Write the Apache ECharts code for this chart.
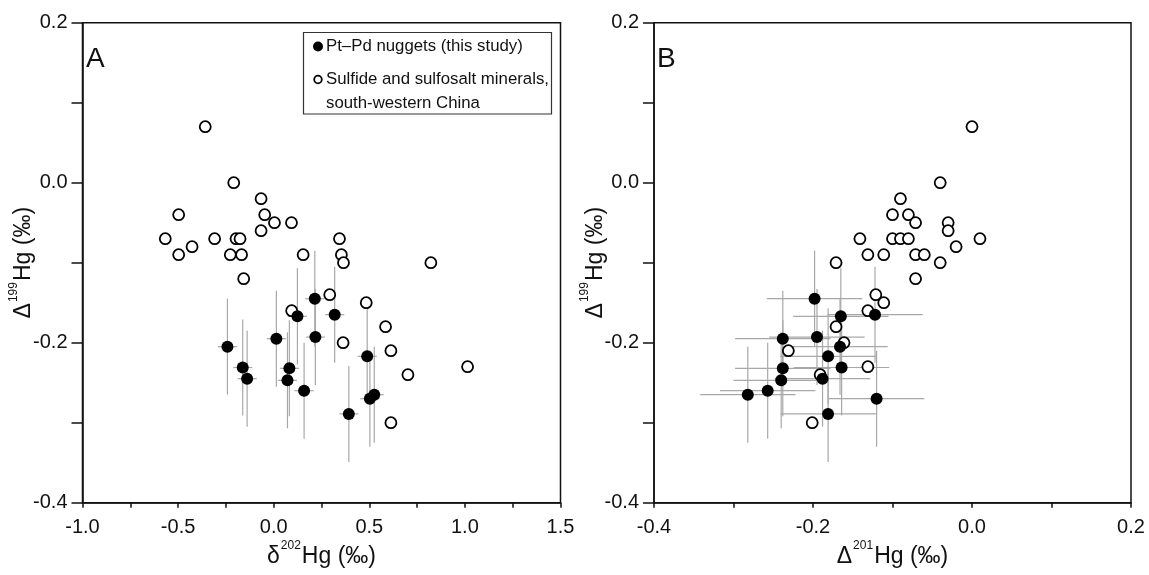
<!DOCTYPE html>
<html><head><meta charset="utf-8">
<script src="https://cdn.jsdelivr.net/npm/echarts@6/dist/echarts.min.js"></script>
<style>html,body{margin:0;padding:0;background:#fff}#c{width:1149px;height:575px}</style>
</head><body><div id="c"></div>
<script>
// ---- Data ----
// Pt–Pd nuggets (this study)
const nuggetD199 = [-0.145,-0.165,-0.167,-0.193,-0.195,-0.205,-0.217,-0.231,-0.232,-0.245,-0.247,-0.260,-0.265,-0.270,-0.289];
const nuggetd202 = [0.215,0.319,0.124,0.218,0.014,-0.242,0.489,-0.162,0.082,-0.139,0.072,0.159,0.526,0.503,0.393];
const nuggetD201 = [-0.198,-0.122,-0.165,-0.195,-0.238,-0.166,-0.181,-0.164,-0.238,-0.188,-0.240,-0.257,-0.282,-0.120,-0.181];
const nuggetErrD199 = [0.06,0.06,0.06,0.06,0.06,0.06,0.06,0.06,0.06,0.06,0.06,0.06,0.06,0.06,0.06];
const nuggetErrd202 = [0.05,0.05,0.05,0.05,0.05,0.05,0.05,0.05,0.05,0.05,0.05,0.05,0.05,0.05,0.05];
const nuggetErrD201 = [0.06,0.06,0.06,0.06,0.06,0.06,0.06,0.06,0.06,0.06,0.06,0.06,0.06,0.06,0.06];
// Sulfide and sulfosalt minerals, panel A (δ202Hg, Δ199Hg)
const sulfideA_d202 = [-0.358,-0.209,-0.066,-0.497,-0.047,0.004,0.093,-0.567,-0.309,-0.197,-0.176,-0.066,-0.427,-0.497,-0.227,-0.168,0.154,-0.157,0.344,0.354,0.365,0.822,0.293,0.094,0.484,0.585,0.363,0.613,0.702,0.613,1.014];
const sulfideA_D199 = [0.07,0.0,-0.02,-0.04,-0.04,-0.05,-0.05,-0.07,-0.07,-0.07,-0.07,-0.06,-0.08,-0.09,-0.09,-0.09,-0.09,-0.12,-0.07,-0.09,-0.10,-0.10,-0.14,-0.16,-0.15,-0.18,-0.20,-0.21,-0.24,-0.30,-0.23];
// Sulfide and sulfosalt minerals, panel B (Δ201Hg, Δ199Hg)
const sulfideB_D201 = [0.0,-0.04,-0.09,-0.10,-0.08,-0.071,-0.03,-0.03,-0.141,-0.10,-0.09,-0.08,0.01,-0.02,-0.131,-0.111,-0.071,-0.06,-0.04,-0.171,-0.071,-0.121,-0.111,-0.131,-0.171,-0.161,-0.231,-0.131,-0.191,-0.201];
const sulfideB_D199 = [0.07,0.0,-0.02,-0.04,-0.04,-0.05,-0.05,-0.06,-0.07,-0.07,-0.07,-0.07,-0.07,-0.08,-0.09,-0.09,-0.09,-0.09,-0.10,-0.10,-0.12,-0.14,-0.15,-0.16,-0.18,-0.20,-0.21,-0.23,-0.24,-0.30];
// Text
const legendLabels = ['Pt\u2013Pd nuggets (this study)', 'Sulfide and sulfosalt minerals,', 'south-western China'];
const panelLabels = ['A', 'B'];
const xTitleA = '{n|\u03b4}{s|202}{n|Hg (\u2030)}';
const xTitleB = '{n|\u0394}{s|201}{n|Hg (\u2030)}';
const yTitle = '{n|\u0394}{s|199}{n|Hg (\u2030)}';

// ---- Chart ----
const FONT = '"Liberation Sans", Arial, sans-serif';
const chart = echarts.init(document.getElementById('c'));
const fmt = v => (Math.abs(v) < 1e-9 ? '0.0' : v.toFixed(1));
const titleRich = {
  n: {fontSize: 23, fontFamily: FONT, color: '#111', lineHeight: 28, verticalAlign: 'bottom'},
  s: {fontSize: 12, fontFamily: FONT, color: '#111', lineHeight: 28, verticalAlign: 'top', padding: [0, 1, 0, 1]}
};
function xAxis(idx, min, max, interval, name) {
  return {
    gridIndex: idx, type: 'value', min, max, interval,
    name, nameLocation: 'middle', nameGap: 37, nameMoveOverlap: false, nameTextStyle: {rich: titleRich},
    axisLine: {onZero: false, lineStyle: {color: '#111', width: 1.5}},
    axisTick: {show: true, inside: false, length: 5, lineStyle: {color: '#111', width: 1.5}},
    minorTick: {show: true, splitNumber: 2, length: 5, lineStyle: {color: '#111', width: 1.5}},
    axisLabel: {formatter: fmt, fontSize: 20, fontFamily: FONT, color: '#111', margin: 15},
    splitLine: {show: false}, minorSplitLine: {show: false}
  };
}
function yAxis(idx) {
  return {
    gridIndex: idx, type: 'value', min: -0.4, max: 0.2, interval: 0.2,
    name: yTitle, nameLocation: 'middle', nameGap: 47, nameMoveOverlap: false, nameTextStyle: {rich: titleRich},
    axisLine: {onZero: false, lineStyle: {color: '#111', width: 1.5}},
    axisTick: {show: true, inside: false, length: 11, lineStyle: {color: '#111', width: 1.5}},
    minorTick: {show: true, splitNumber: 2, length: 11, lineStyle: {color: '#111', width: 1.5}},
    axisLabel: {formatter: fmt, fontSize: 20, fontFamily: FONT, color: '#111', margin: 15},
    splitLine: {show: false}, minorSplitLine: {show: false}
  };
}
function errSeries(idx, xs, ys, ex, ey) {
  return {
    type: 'custom', xAxisIndex: idx, yAxisIndex: idx, silent: true, z: 1,
    encode: {x: 0, y: 1},
    data: xs.map((x, i) => [x, ys[i], ex[i], ey[i]]),
    renderItem(params, api) {
      const x = api.value(0), y = api.value(1), dx = api.value(2), dy = api.value(3);
      const a = api.coord([x - dx, y]), b = api.coord([x + dx, y]);
      const c = api.coord([x, y - dy]), d = api.coord([x, y + dy]);
      const st = {stroke: '#a8a8a8', lineWidth: 1.2};
      return {type: 'group', children: [
        {type: 'line', shape: {x1: a[0], y1: a[1], x2: b[0], y2: b[1]}, style: st},
        {type: 'line', shape: {x1: c[0], y1: c[1], x2: d[0], y2: d[1]}, style: st}
      ]};
    }
  };
}
function openSeries(idx, xs, ys) {
  return {type: 'scatter', xAxisIndex: idx, yAxisIndex: idx, z: 3, symbol: 'circle', symbolSize: 11,
    itemStyle: {color: '#fff', borderColor: '#000', borderWidth: 1.8, opacity: 1},
    data: xs.map((x, i) => [x, ys[i]])};
}
function filledSeries(idx, xs, ys) {
  return {type: 'scatter', xAxisIndex: idx, yAxisIndex: idx, z: 4, symbol: 'circle', symbolSize: 12,
    itemStyle: {color: '#000', borderColor: '#000', borderWidth: 0, opacity: 1},
    data: xs.map((x, i) => [x, ys[i]])};
}
const option = {
  backgroundColor: '#fff',
  animation: false,
  textStyle: {fontFamily: FONT},
  grid: [
    {left: 82.5, top: 22.7, width: 478, height: 480, show: true, borderColor: '#111', borderWidth: 1.5, backgroundColor: 'transparent'},
    {left: 654, top: 22.7, width: 477, height: 480, show: true, borderColor: '#111', borderWidth: 1.5, backgroundColor: 'transparent'}
  ],
  xAxis: [xAxis(0, -1.0, 1.5, 0.5, xTitleA), xAxis(1, -0.4, 0.2, 0.2, xTitleB)],
  yAxis: [yAxis(0), yAxis(1)],
  series: [
    errSeries(0, nuggetd202, nuggetD199, nuggetErrd202, nuggetErrD199),
    openSeries(0, sulfideA_d202, sulfideA_D199),
    filledSeries(0, nuggetd202, nuggetD199),
    errSeries(1, nuggetD201, nuggetD199, nuggetErrD201, nuggetErrD199),
    openSeries(1, sulfideB_D201, sulfideB_D199),
    filledSeries(1, nuggetD201, nuggetD199)
  ],
  graphic: [
    {type: 'text', left: 86, top: 45, z: 10, style: {text: panelLabels[0], fontSize: 28, fontFamily: FONT, fill: '#111'}},
    {type: 'text', left: 657, top: 45, z: 10, style: {text: panelLabels[1], fontSize: 28, fontFamily: FONT, fill: '#111'}},
    {type: 'rect', z: 10, shape: {x: 303.5, y: 32.5, width: 248, height: 81.5}, style: {fill: '#fff', stroke: '#333', lineWidth: 1.2}},
    {type: 'circle', z: 11, shape: {cx: 318, cy: 46.5, r: 5}, style: {fill: '#000'}},
    {type: 'circle', z: 11, shape: {cx: 318, cy: 79.5, r: 3.8}, style: {fill: '#fff', stroke: '#000', lineWidth: 1.8}},
    {type: 'text', z: 11, x: 326, y: 46.5, style: {text: legendLabels[0], fontSize: 16.8, fontFamily: FONT, fill: '#111', verticalAlign: 'middle'}},
    {type: 'text', z: 11, x: 326, y: 79.5, style: {text: legendLabels[1], fontSize: 16.8, fontFamily: FONT, fill: '#111', verticalAlign: 'middle'}},
    {type: 'text', z: 11, x: 326, y: 103, style: {text: legendLabels[2], fontSize: 16.8, fontFamily: FONT, fill: '#111', verticalAlign: 'middle'}}
  ]
};
chart.setOption(option);
</script>
</body></html>
